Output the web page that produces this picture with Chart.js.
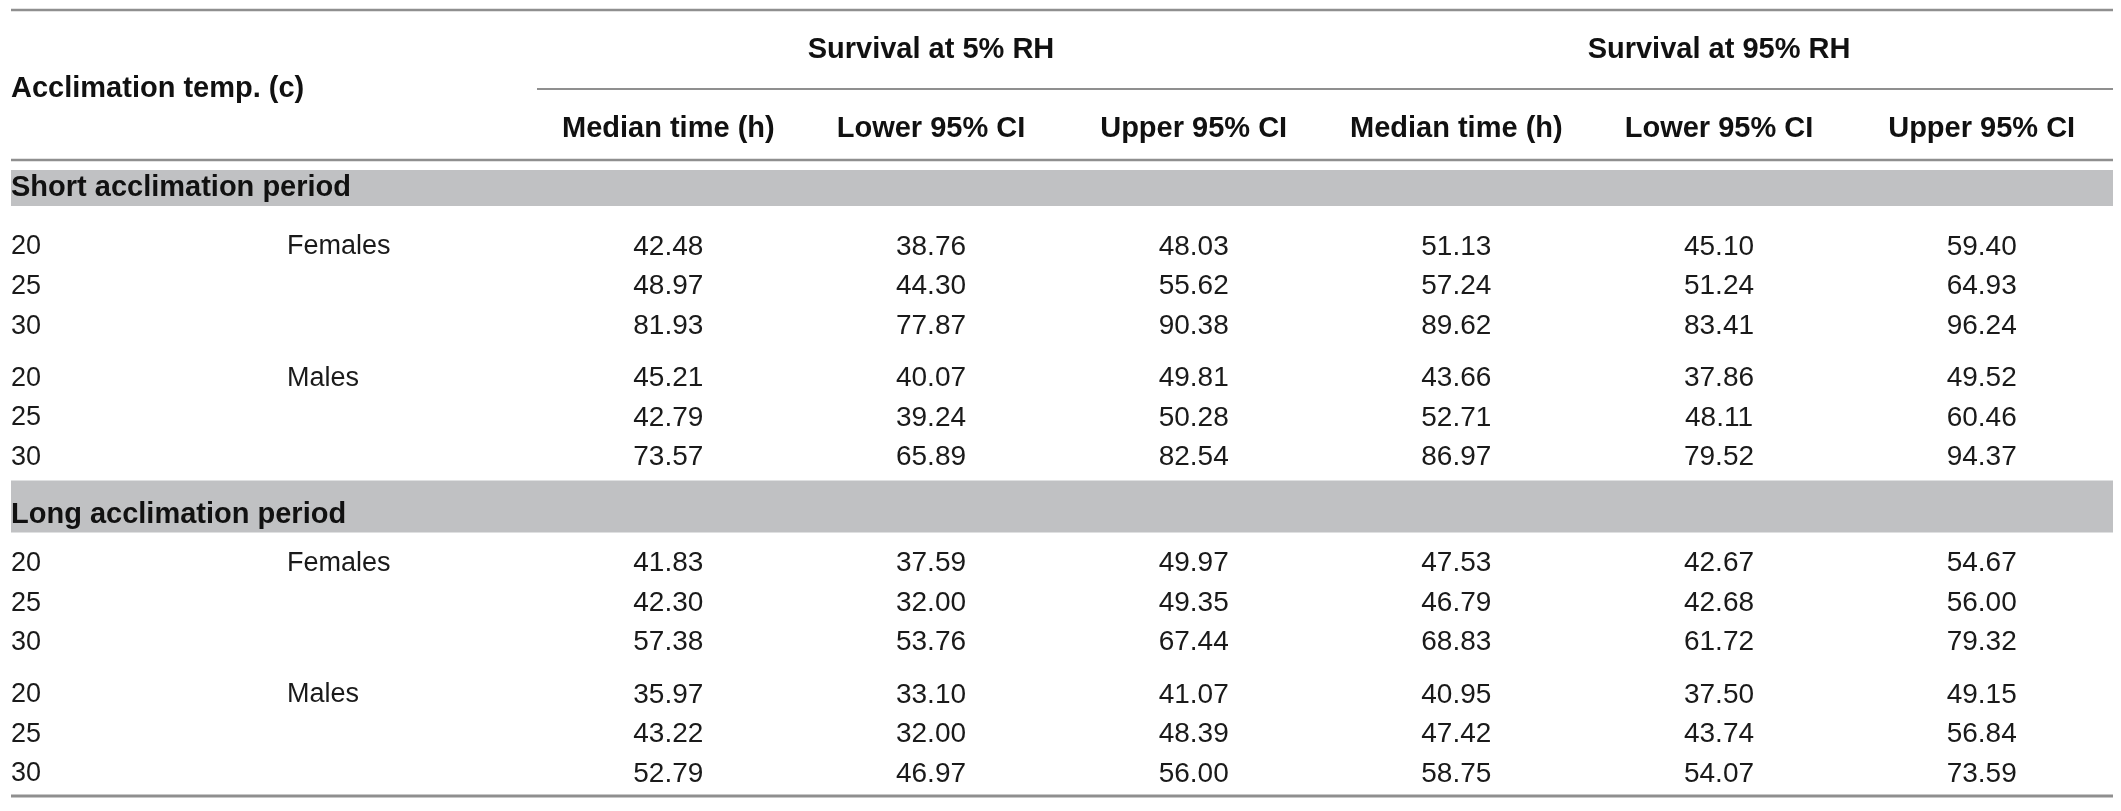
<!DOCTYPE html>
<html>
<head>
<meta charset="utf-8">
<script src="https://cdn.jsdelivr.net/npm/chart.js@4.4.1/dist/chart.umd.min.js"></script>
<style>
html,body{margin:0;padding:0;background:#fff}
#caja{width:2121px;height:811px;position:relative}
</style>
</head>
<body>
<div id="caja"><canvas id="tabla"></canvas></div>
<script>
// textos de la tabla
const tituloFila = "Acclimation temp. (c)"
const grupos = ["Survival at 5% RH", "Survival at 95% RH"]
const columnas = ["Median time (h)", "Lower 95% CI", "Upper 95% CI", "Median time (h)", "Lower 95% CI", "Upper 95% CI"]
const periodos = ["Short acclimation period", "Long acclimation period"]
const sexos = ["Females", "Males"]
const temps = ["20", "25", "30"]

// valores: [mediana 5%, inf 5%, sup 5%, mediana 95%, inf 95%, sup 95%]
const cortoHembras = [
  [42.48, 38.76, 48.03, 51.13, 45.10, 59.40],
  [48.97, 44.30, 55.62, 57.24, 51.24, 64.93],
  [81.93, 77.87, 90.38, 89.62, 83.41, 96.24]
]
const cortoMachos = [
  [45.21, 40.07, 49.81, 43.66, 37.86, 49.52],
  [42.79, 39.24, 50.28, 52.71, 48.11, 60.46],
  [73.57, 65.89, 82.54, 86.97, 79.52, 94.37]
]
const largoHembras = [
  [41.83, 37.59, 49.97, 47.53, 42.67, 54.67],
  [42.30, 32.00, 49.35, 46.79, 42.68, 56.00],
  [57.38, 53.76, 67.44, 68.83, 61.72, 79.32]
]
const largoMachos = [
  [35.97, 33.10, 41.07, 40.95, 37.50, 49.15],
  [43.22, 32.00, 48.39, 47.42, 43.74, 56.84],
  [52.79, 46.97, 56.00, 58.75, 54.07, 73.59]
]

const bloques = [[cortoHembras, cortoMachos], [largoHembras, largoMachos]]

// medidas de la maqueta (eje y en unidades de pixel, de arriba hacia abajo)
const ALTO = 811
const Y_REGLA_SUP = 10, Y_GRUPO = 50, Y_SUBREGLA = 89, Y_TITULO = 89, Y_COLUMNA = 129, Y_REGLA_CAB = 160
const FILA = 39.6, SALTO_GRUPO = 12.5
const antesBanda = [10, 3], altoBanda = [36, 52], despuesBanda = [41, 31]
const MARGEN_IZQ = 11, X_SEXO = 287

const FUENTE = '"Liberation Sans", Arial, Helvetica, sans-serif'
const GRIS_REGLA = '#8f8f8f'
const GRIS_BANDA = '#c0c1c3'

// armar la maqueta vertical
let bandas = []
let filas = []   // {y, temp, sexo, valores}
let cursor = Y_REGLA_CAB
for (let s = 0; s < bloques.length; s++) {
  let top = cursor + antesBanda[s]
  let bottom = top + altoBanda[s]
  bandas.push({top: top, bottom: bottom, texto: periodos[s]})
  let y = bottom + despuesBanda[s]
  for (let g = 0; g < bloques[s].length; g++) {
    if (g > 0) y += SALTO_GRUPO
    for (let r = 0; r < bloques[s][g].length; r++) {
      filas.push({y: y, temp: temps[r], sexo: r === 0 ? sexos[g] : "", valores: bloques[s][g][r]})
      y += FILA
    }
  }
  cursor = y - FILA + 20
}
const Y_REGLA_INF = cursor + 2

// un dataset por columna de valores
let datasets = columnas.map(function(nombre, c){
  return {
    label: nombre,
    data: filas.map(function(f){ return {x: c, y: f.y, v: f.valores[c]} }),
    pointRadius: 0,
    showLine: false
  }
})

function linea(ctx, x1, x2, y, ancho){
  ctx.save()
  ctx.strokeStyle = GRIS_REGLA
  ctx.lineWidth = ancho
  ctx.beginPath()
  ctx.moveTo(x1, y)
  ctx.lineTo(x2, y)
  ctx.stroke()
  ctx.restore()
}

const pluginTabla = {
  id: 'tabla',
  beforeDatasetsDraw(chart){
    let ctx = chart.ctx
    let ys = chart.scales.y
    let area = chart.chartArea
    // bandas grises
    ctx.save()
    ctx.fillStyle = GRIS_BANDA
    bandas.forEach(function(b){
      let t = ys.getPixelForValue(b.top)
      let btm = ys.getPixelForValue(b.bottom)
      ctx.fillRect(MARGEN_IZQ, t, area.right - MARGEN_IZQ, btm - t)
    })
    ctx.restore()
    // reglas
    linea(ctx, MARGEN_IZQ, area.right, ys.getPixelForValue(Y_REGLA_SUP), 2.5)
    linea(ctx, area.left, area.right, ys.getPixelForValue(Y_SUBREGLA), 2)
    linea(ctx, MARGEN_IZQ, area.right, ys.getPixelForValue(Y_REGLA_CAB), 2.5)
    linea(ctx, MARGEN_IZQ, area.right, ys.getPixelForValue(Y_REGLA_INF), 3)
  },
  afterDatasetsDraw(chart){
    let ctx = chart.ctx
    let xs = chart.scales.x
    let ys = chart.scales.y
    ctx.save()
    ctx.textBaseline = 'middle'
    ctx.fillStyle = '#111'

    // encabezados
    ctx.font = 'bold 29px ' + FUENTE
    ctx.textAlign = 'left'
    ctx.fillText(tituloFila, MARGEN_IZQ, ys.getPixelForValue(Y_TITULO))
    ctx.textAlign = 'center'
    grupos.forEach(function(g, i){
      ctx.fillText(g, xs.getPixelForValue(i * 3 + 1), ys.getPixelForValue(Y_GRUPO))
    })
    columnas.forEach(function(c, i){
      ctx.fillText(c, xs.getPixelForValue(i), ys.getPixelForValue(Y_COLUMNA))
    })
    ctx.textAlign = 'left'
    bandas.forEach(function(b){
      ctx.fillText(b.texto, MARGEN_IZQ, ys.getPixelForValue(b.bottom - 18))
    })

    // etiquetas de fila
    ctx.font = '27px ' + FUENTE
    ctx.fillStyle = '#1a1a1a'
    filas.forEach(function(f){
      let y = ys.getPixelForValue(f.y)
      ctx.fillText(f.temp, MARGEN_IZQ, y)
      if (f.sexo) ctx.fillText(f.sexo, X_SEXO, y)
    })

    // celdas
    ctx.font = '28px ' + FUENTE
    ctx.textAlign = 'center'
    chart.data.datasets.forEach(function(ds, i){
      let meta = chart.getDatasetMeta(i)
      meta.data.forEach(function(p, j){
        ctx.fillText(ds.data[j].v.toFixed(2), p.x, p.y)
      })
    })
    ctx.restore()
  }
}

new Chart(document.getElementById("tabla"), {
  type: 'scatter',
  data: {datasets: datasets},
  options: {
    responsive: true,
    maintainAspectRatio: false,
    animation: false,
    events: [],
    layout: {padding: {left: 537, right: 8, top: 0, bottom: 0}},
    plugins: {legend: {display: false}, tooltip: {enabled: false}},
    scales: {
      x: {type: 'linear', min: -0.5, max: 5.5, display: false},
      y: {type: 'linear', min: 0, max: ALTO, reverse: true, display: false}
    }
  },
  plugins: [pluginTabla]
})
</script>
</body>
</html>
